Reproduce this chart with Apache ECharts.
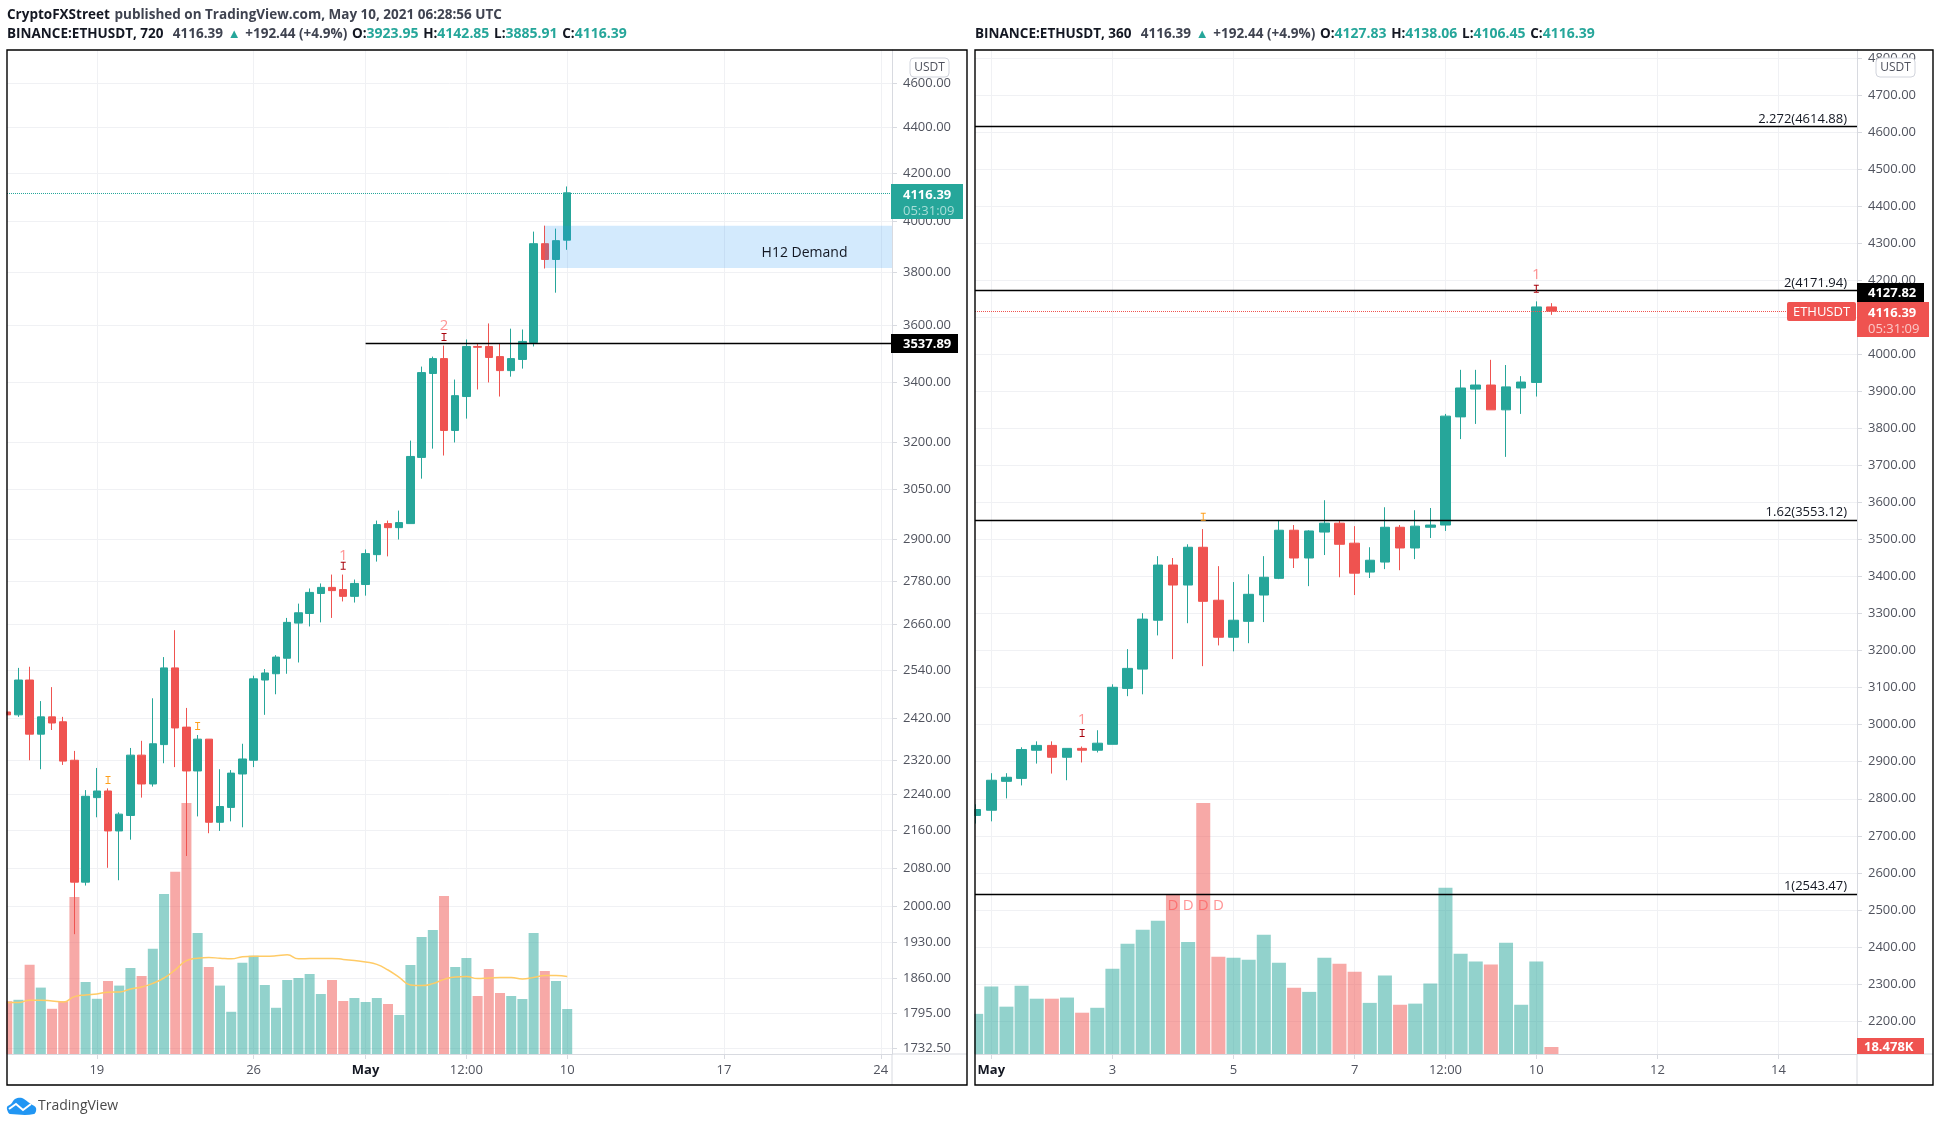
<!DOCTYPE html>
<html>
<head>
<meta charset="utf-8">
<title>ETHUSDT</title>
<style>html,body{margin:0;padding:0;background:#fff}#chart{width:1941px;height:1127px}</style>
<script src="https://cdn.jsdelivr.net/npm/echarts@6/dist/echarts.min.js"></script>
</head>
<body>
<div id="chart"></div>
<script>
/* the horizontal axis counts hours since 1 May 2021 00:00 UTC */
const t = (m, d, h) => (Date.UTC(2021, m - 1, d, h || 0) - Date.UTC(2021, 4, 1)) / 3600000;

/* ---------- left panel: 720 minute bars, starting 15 Apr 00:00 ---------- */
const leftStart = t(4, 15);
const leftStepHours = 12;
const leftOpen = [2435,2428,2515,2381,2423,2411,2319,2050,2233,2248,2159,2193,2331,2264,2356,2546,2398,2294,2369,2178,2211,2287,2319,2515,2531,2571,2664,2690,2745,2762,2756,2737,2770,2855,2946,2934,2946,3150,3429,3481,3237,3350,3524,3524,3488,3439,3478,3538,3910,3848,3923.95];
const leftClose = [2428,2515,2381,2423,2408,2317,2050,2236,2248,2159,2196,2331,2264,2358,2546,2396,2294,2369,2178,2213,2289,2322,2518,2533,2574,2666,2692,2748,2762,2753,2737,2773,2858,2943,2934,2949,3153,3432,3481,3237,3353,3524,3521,3485,3439,3481,3542,3910,3848,3922,4116.39];
const leftLow = [2428,2423,2319,2298,2391,2308,1945,2043,2189,2080,2054,2140,2233,2258,2312,2303,2105,2191,2154,2159,2180,2167,2303,2428,2479,2531,2560,2655,2666,2678,2723,2720,2739,2835,2850,2899,2946,3083,3178,3156,3198,3276,3374,3398,3350,3418,3446,3524,3813,3721,3885.91];
const leftHigh = [2435,2546,2549,2462,2497,2423,2341,2250,2301,2254,2200,2348,2365,2469,2574,2645,2445,2379,2369,2298,2296,2358,2526,2543,2579,2678,2717,2759,2773,2798,2798,2784,2870,2955,2955,2985,3204,3453,3488,3527,3408,3549,3534,3607,3536,3588,3585,3958,3982,3970,4142.85];
const leftVolume = [264,271,446,332,226,264,785,360,276,365,342,430,390,526,800,911,1255,605,435,342,211,456,491,345,231,370,380,400,300,370,265,280,260,280,250,195,445,585,620,790,435,480,290,425,305,290,275,605,415,365,225];
const leftVolumeMA = [257,257,269,269,265,260,287,295,300,309,310,325,335,353,380,421,467,479,482,479,476,486,489,489,491,496,476,477,478,478,473,467,460,448,420,383,345,342,352,373,385,387,377,380,383,382,375,383,392,392,388];
const leftPriceTicks = [4600,4400,4200,4000,3800,3600,3400,3200,3050,2900,2780,2660,2540,2420,2320,2240,2160,2080,2000,1930,1860,1795,1732.5];
const leftTimeTicks = [t(4,19),t(4,26),t(5,1),t(5,5,12),t(5,10),t(5,17),t(5,24)];
const leftTimeLabels = ['19','26','May','12:00','10','17','24'];

/* ---------- right panel: 360 minute bars, starting 30 Apr 18:00 ---------- */
const rightStart = t(4, 30, 18);
const rightStepHours = 6;
const rightOpen = [2755,2769,2847,2855,2931,2944,2912,2936,2931,2947,3098,3150,3282,3431,3377,3479,3336,3236,3279,3350,3395,3525,3450,3520,3544,3490,3412,3439,3533,3477,3533,3539,3831,3906,3917,3850,3909,3923.95,4127.83];
const rightClose = [2771,2850,2858,2933,2944,2912,2936,2931,2950,3101,3152,3285,3431,3377,3479,3333,3236,3282,3352,3398,3525,3450,3523,3544,3487,3409,3444,3533,3477,3536,3539,3833,3909,3917,3850,3912,3925,4127.83,4116.39];
const rightLow = [2733,2739,2801,2836,2895,2868,2850,2898,2925,2947,3077,3082,3241,3177,3274,3158,3214,3198,3220,3277,3393,3423,3374,3458,3398,3350,3396,3420,3417,3447,3504,3523,3771,3812,3850,3723,3839,3885.91,4106.45];
const rightHigh = [2785,2869,2869,2939,2955,2955,2936,2941,2985,3109,3204,3301,3455,3450,3487,3528,3428,3385,3406,3455,3552,3539,3525,3606,3550,3536,3479,3587,3539,3579,3585,3839,3958,3958,3985,3971,3941,4142.85,4138.06];
const rightVolume = [106,178,125,180,146,146,149,109,122,225,291,328,352,421,296,663,257,254,249,315,241,175,164,254,238,217,135,207,130,133,186,439,265,244,236,294,130,244,18.478];
const rightPriceTicks = [4800,4700,4600,4500,4400,4300,4200,4100,4000,3900,3800,3700,3600,3500,3400,3300,3200,3100,3000,2900,2800,2700,2600,2500,2400,2300,2200];
const rightTimeTicks = [t(5,1),t(5,3),t(5,5),t(5,7),t(5,8,12),t(5,10),t(5,12),t(5,14)];
const rightTimeLabels = ['May','3','5','7','12:00','10','12','14'];
const fibLevels = [4614.88, 4171.94, 3553.12, 2543.47];
const fibNames = ['2.272', '2', '1.62', '1'];

const UP = '#26a69a', DOWN = '#ef5350';
const UP_VOL = 'rgba(38,166,154,0.5)', DOWN_VOL = 'rgba(239,83,80,0.5)';
const PINK = 'rgba(255,82,82,0.62)', DARKRED = '#a8000a', ORANGE = '#ff9f1a', INK = '#131722';
const FONT = '"Open Sans", "Noto Sans", sans-serif';
const IBEAM = 'path://M0 0H5V1H3V7H5V8H0V7H2V1H0Z';

const times = (start, step, n) => Array.from({length: n}, (_, i) => start + i * step);
const leftTimes = times(leftStart, leftStepHours, leftOpen.length);
const rightTimes = times(rightStart, rightStepHours, rightOpen.length);
const candles = (ts, o, c, l, h) => ts.map((x, i) => [x, o[i], c[i], l[i], h[i]]);
const bars = (ts, v, o, c) => ts.map((x, i) => ({value: [x, v[i]], itemStyle: {color: c[i] < o[i] ? DOWN_VOL : UP_VOL}}));

const GRID_LINE = '#f0f1f4', AXIS_LINE = '#d8dae0', LABEL = '#50535e';

function timeAxis(gridIndex, min, max, ticks, labels) {
  return {
    type: 'value', gridIndex, min, max, scale: true,
    axisLine: {show: true, onZero: false, lineStyle: {color: AXIS_LINE}},
    axisTick: {show: true, length: 5, customValues: ticks, lineStyle: {color: AXIS_LINE}},
    splitLine: {show: true, lineStyle: {color: GRID_LINE}},
    axisLabel: {
      customValues: ticks, margin: 10, color: LABEL, fontFamily: FONT, fontSize: 13,
      showMinLabel: true, showMaxLabel: true, hideOverlap: false,
      formatter: v => { const s = labels[ticks.indexOf(+v)]; return s === 'May' ? '{m|May}' : (s || ''); },
      rich: {m: {fontWeight: 'bold', color: INK, fontFamily: FONT, fontSize: 13}}
    }
  };
}
function priceAxis(gridIndex, type, min, max, ticks) {
  const ax = {
    type, gridIndex, min, max, position: 'right', scale: true,
    axisLine: {show: true, onZero: false, lineStyle: {color: AXIS_LINE}},
    axisTick: {show: true, length: 5, customValues: ticks, lineStyle: {color: AXIS_LINE}},
    splitLine: {show: true, lineStyle: {color: GRID_LINE}},
    axisLabel: {customValues: ticks, align: 'left', margin: 11, padding: [2, 0, 0, 0], color: LABEL, fontFamily: FONT, fontSize: 13,
      showMinLabel: true, showMaxLabel: true, hideOverlap: false, formatter: v => Number(v).toFixed(2)}
  };
  if (type === 'log') ax.logBase = 10;
  return ax;
}
const volAxis = (gridIndex, max) => ({type: 'value', gridIndex, min: 0, max, show: false, axisLine: {onZero: false}, splitLine: {show: false}});
const note = (coord, text, color, size) => ({coord, symbol: 'circle', symbolSize: 0, itemStyle: {color: 'transparent'},
  label: {show: true, position: 'inside', formatter: text, color, fontSize: size, fontFamily: FONT}});
const ibeam = (coord, color) => ({coord, symbol: IBEAM, symbolSize: [5, 8], itemStyle: {color}, label: {show: false}});

const leftMin = leftStart - 0.25, leftMax = t(5, 24, 12);
const rightMin = -6.46, rightMax = 343.1;

const head = (x, y, sym, last, o, h, l, c) => ({
  left: x, top: y, padding: 0,
  text: `{b|BINANCE:ETHUSDT, ${sym}}  {n|${last}} {u|▲} {n|+192.44 (+4.9%)} {b|O:}{v|${o}} {b|H:}{v|${h}} {b|L:}{v|${l}} {b|C:}{v|${c}}`,
  textStyle: {rich: {
    b: {fontFamily: FONT, fontSize: 13.5, fontWeight: 'bold', color: INK},
    n: {fontFamily: FONT, fontSize: 13.5, color: '#3f4350'},
    v: {fontFamily: FONT, fontSize: 14, color: UP},
    u: {fontFamily: FONT, fontSize: 13, color: UP}
  }}
});

const rect = (x, y, w, h, fill, extra) => Object.assign({type: 'rect', z: 50, shape: {x, y, width: w, height: h}, style: {fill}}, extra || {});
const label = (x, y, text, fill, weight, size, align) => ({type: 'text', z: 51, x, y,
  style: {text, fill, fontFamily: FONT, fontSize: size || 13, fontWeight: weight || 'normal', align: align || 'left', verticalAlign: 'middle'}});
const line = (x1, y1, x2, y2, stroke, w) => ({type: 'line', z: 49, shape: {x1, y1, x2, y2}, style: {stroke, lineWidth: w || 1}});
const usdt = x => ([
  {type: 'rect', z: 50, shape: {x, y: 58, width: 39, height: 19, r: 4}, style: {fill: '#fff', stroke: '#d1d4dc', lineWidth: 1}},
  label(x + 19.5, 67.5, 'USDT', LABEL, 'normal', 12, 'center')
]);
const graphics = [
  /* margins beside each panel stay white where the first bars would spill over */
  {type: 'rect', z: 45, shape: {x: 0, y: 50, width: 6.4, height: 1035}, style: {fill: '#fff'}},
  {type: 'rect', z: 45, shape: {x: 968, y: 50, width: 6.4, height: 1035}, style: {fill: '#fff'}},
  /* panel extensions of the price and time axes */
  line(892, 1054, 967, 1054, AXIS_LINE), line(892, 1054, 892, 1085, AXIS_LINE),
  line(1857, 1054, 1933, 1054, AXIS_LINE), line(1857, 1054, 1857, 1085, AXIS_LINE),
  ...usdt(910), ...usdt(1876),
  /* left price labels */
  rect(891, 184, 72, 35, UP),
  label(903, 195, '4116.39', '#fff', 'bold'), label(903, 211, '05:31:09', '#a8ded8'),
  rect(891, 334, 67, 19, '#000'),
  label(903, 344.5, '3537.89', '#fff', 'bold'),
  /* right price labels */
  rect(1857, 283, 67, 19, '#000'),
  label(1868, 293.5, '4127.82', '#fff', 'bold'),
  rect(1857, 302, 72, 35, DOWN),
  label(1868, 313, '4116.39', '#fff', 'bold'), label(1868, 329, '05:31:09', '#fbc9c8'),
  {type: 'rect', z: 50, shape: {x: 1787, y: 302, width: 69, height: 19, r: 2}, style: {fill: DOWN}},
  label(1821.5, 312.5, 'ETHUSDT', '#fff', 'normal', 13, 'center'),
  rect(1857, 1038, 67, 16, DOWN),
  label(1864, 1047.5, '18.478K', '#fff', 'bold'),
  /* panel frames */
  {type: 'rect', z: 60, shape: {x: 7, y: 50, width: 960, height: 1035}, style: {fill: 'none', stroke: '#000', lineWidth: 1.4}},
  {type: 'rect', z: 60, shape: {x: 975, y: 50, width: 958, height: 1035}, style: {fill: 'none', stroke: '#000', lineWidth: 1.4}},
  /* TradingView mark */
  {type: 'polygon', z: 50, shape: {smooth: 0.35, points: [[8,1112],[7,1107],[11,1104],[15,1099],[22,1098],[28,1102],[31,1104],[36,1108],[34,1114],[10,1114]]}, style: {fill: '#2196f3'}},
  {type: 'polyline', z: 51, shape: {points: [[9,1109],[16,1104],[23,1110],[31,1104]]}, style: {fill: 'none', stroke: '#fff', lineWidth: 2}},
  label(38, 1106, 'TradingView', '#4a4a4a', 'normal', 14)
];

const option = {
  animation: false,
  backgroundColor: '#fff',
  textStyle: {fontFamily: FONT},
  title: [
    {left: 7, top: 6, padding: 0,
     text: '{b|CryptoFXStreet} {n|published on TradingView.com, May 10, 2021 06:28:56 UTC}',
     textStyle: {rich: {
       b: {fontFamily: FONT, fontSize: 13.5, fontWeight: 'bold', color: INK},
       n: {fontFamily: FONT, fontSize: 13.5, color: '#3f4350'}}}},
    head(7, 25, 720, '4116.39', '3923.95', '4142.85', '3885.91', '4116.39'),
    head(975, 25, 360, '4116.39', '4127.83', '4138.06', '4106.45', '4116.39')
  ],
  grid: [
    {left: 7, top: 50, width: 885, height: 1004, containLabel: false},
    {left: 975, top: 50, width: 882, height: 1004, containLabel: false}
  ],
  xAxis: [
    timeAxis(0, leftMin, leftMax, leftTimeTicks, leftTimeLabels),
    timeAxis(1, rightMin, rightMax, rightTimeTicks, rightTimeLabels)
  ],
  yAxis: [
    priceAxis(0, 'log', 1723, 4756, leftPriceTicks),
    volAxis(0, 5020),
    priceAxis(1, 'value', 2110.9, 4821.5, rightPriceTicks),
    volAxis(1, 2651)
  ],
  series: [
    {type: 'bar', name: 'Volume 720', xAxisIndex: 0, yAxisIndex: 1, barWidth: 10, z: 1,
     data: bars(leftTimes, leftVolume, leftOpen, leftClose)},
    {type: 'candlestick', name: 'ETHUSDT 720', xAxisIndex: 0, yAxisIndex: 0, barWidth: 8, z: 2,
     itemStyle: {color: UP, color0: DOWN, borderColor: UP, borderColor0: DOWN, borderWidth: 1},
     data: candles(leftTimes, leftOpen, leftClose, leftLow, leftHigh),
     markArea: {silent: true, z: 5, itemStyle: {color: 'rgba(33,150,243,0.2)'},
       data: [[{coord: [leftTimes[48], 3982]}, {coord: [leftMax, 3815]}]]},
     markLine: {silent: true, symbol: 'none', animation: false, z: 6, label: {show: false},
       data: [
         [{coord: [leftMin, 4116.39], lineStyle: {color: UP, type: 'dotted', width: 1}}, {coord: [leftMax, 4116.39]}],
         [{coord: [0, 3536], lineStyle: {color: '#000', type: 'solid', width: 1.4}}, {coord: [leftMax, 3536]}]
       ]},
     markPoint: {silent: true, z: 7, data: [
       note([leftTimes[39], 3598], '2', PINK, 15), ibeam([leftTimes[39], 3558], DARKRED),
       note([leftTimes[30], 2851], '1', PINK, 15), ibeam([leftTimes[30], 2823], DARKRED),
       ibeam([leftTimes[9], 2273], ORANGE), ibeam([leftTimes[17], 2401], ORANGE),
       note([470.3, 3873], 'H12 Demand', INK, 14)
     ]}},
    {type: 'line', name: 'Volume MA', xAxisIndex: 0, yAxisIndex: 1, smooth: true, showSymbol: false, symbol: 'none', z: 3,
     lineStyle: {color: '#ffcb66', width: 1.5},
     data: leftTimes.map((x, i) => [x, leftVolumeMA[i]])},

    {type: 'bar', name: 'Volume 360', xAxisIndex: 1, yAxisIndex: 3, barWidth: 14, z: 1,
     data: bars(rightTimes, rightVolume, rightOpen, rightClose)},
    {type: 'candlestick', name: 'ETHUSDT 360', xAxisIndex: 1, yAxisIndex: 2, barWidth: 10, z: 2,
     itemStyle: {color: UP, color0: DOWN, borderColor: UP, borderColor0: DOWN, borderWidth: 1},
     data: candles(rightTimes, rightOpen, rightClose, rightLow, rightHigh),
     markLine: {silent: true, symbol: 'none', animation: false, z: 6,
       data: [
         ...fibLevels.map((v, i) => [
           {coord: [rightMin, v], lineStyle: {color: '#000', type: 'solid', width: 1.4},
            label: {show: true, position: 'insideEndTop', distance: [10, 1], formatter: `${fibNames[i]}(${v.toFixed(2)})`, color: INK, fontFamily: FONT, fontSize: 13}},
           {coord: [rightMax, v]}]),
         [{coord: [rightMin, 4116.39], lineStyle: {color: DOWN, type: 'dotted', width: 1}, label: {show: false}}, {coord: [rightMax, 4116.39]}]
       ]},
     markPoint: {silent: true, z: 7, data: [
       note([rightTimes[37], 4214], '1', PINK, 15), ibeam([rightTimes[37], 4177], DARKRED),
       note([rightTimes[7], 3013], '1', PINK, 15), ibeam([rightTimes[7], 2977.5], DARKRED),
       ibeam([rightTimes[15], 3561.5], ORANGE),
       note([rightTimes[13], 2510], 'D', PINK, 15), note([rightTimes[14], 2510], 'D', PINK, 15),
       note([rightTimes[15], 2510], 'D', PINK, 15), note([rightTimes[16], 2510], 'D', PINK, 15)
     ]}}
  ],
  graphic: graphics
};
const chart = echarts.init(document.getElementById('chart'), null, {renderer: 'canvas', width: 1941, height: 1127});
chart.setOption(option);
</script>
</body>
</html>
